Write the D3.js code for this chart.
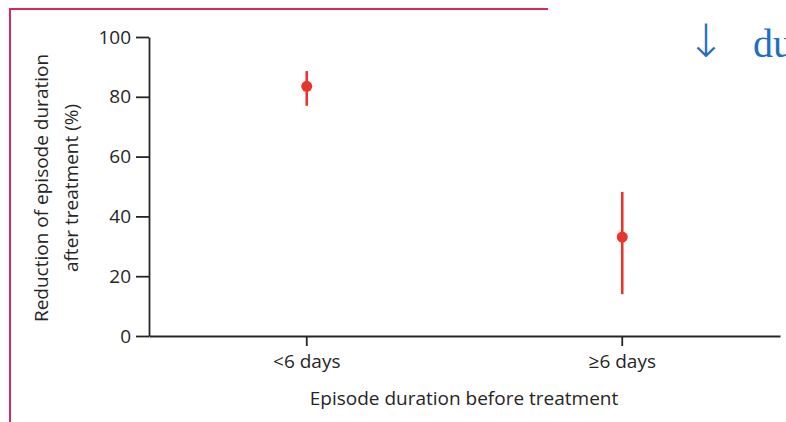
<!DOCTYPE html>
<html><head><meta charset="utf-8">
<script src="https://cdn.jsdelivr.net/npm/d3@7"></script>
<style>
html,body{margin:0;padding:0;background:#fff;}
svg{display:block;}
</style></head>
<body>
<svg id="chart" width="786" height="422"></svg>
<script>
const categories = ["<6 days", "≥6 days"];
const means = [83.5, 33.1];
const lowers = [77.0, 14.0];
const uppers = [88.6, 48.2];
const yTicks = [0, 20, 40, 60, 80, 100];
const yTitleLines = ["Reduction of episode duration", "after treatment (%)"];
const xTitle = "Episode duration before treatment";

const svg = d3.select("#chart");
const font = "'Open Sans', sans-serif";
const fs = 19;
const ink = "#262626";
const red = "#e8352c";

// slide frame (pink border from the surrounding slide)
svg.append("path").attr("d", "M10,422 V9 H548")
  .attr("fill", "none").attr("stroke", "#d9285a").attr("stroke-width", 2);

// cropped slide text
svg.append("text").attr("x", 706).attr("y", 57).attr("text-anchor", "middle")
  .attr("font-family", "'DejaVu Sans', sans-serif").attr("font-size", 46).attr("font-weight", 200).attr("fill", "#1e6fc2")
  .text("↓");
svg.append("text").attr("x", 753).attr("y", 57)
  .attr("font-family", "'Liberation Serif', serif").attr("font-size", 40).attr("fill", "#1e6fc2")
  .text("du");

const x = d3.scaleBand().domain(categories).range([149, 780]).padding(0);
const y = d3.scaleLinear().domain([0, 100]).range([336, 37]);

// y axis
const yAxis = svg.append("g").attr("transform", "translate(149,0)")
  .call(d3.axisLeft(y).tickValues(yTicks).tickSize(13).tickPadding(5).tickSizeOuter(0));
yAxis.select(".domain").attr("stroke", ink).attr("stroke-width", 1.8);
yAxis.selectAll(".tick line").attr("stroke", ink).attr("stroke-width", 1.8);
yAxis.selectAll(".tick text").attr("font-family", font).attr("font-size", fs).attr("fill", ink);

// x axis
const xAxis = svg.append("g").attr("transform", "translate(0,336)")
  .call(d3.axisBottom(x).tickSize(10).tickPadding(9).tickSizeOuter(0));
xAxis.select(".domain").attr("stroke", ink).attr("stroke-width", 1.8);
xAxis.selectAll(".tick line").attr("stroke", ink).attr("stroke-width", 1.8);
xAxis.selectAll(".tick text").attr("font-family", font).attr("font-size", fs).attr("fill", ink);

// axis titles
svg.append("text").attr("x", 464).attr("y", 405).attr("text-anchor", "middle")
  .attr("font-family", font).attr("font-size", fs).attr("fill", ink).text(xTitle);
const yt = svg.append("text").attr("transform", "translate(48,188) rotate(-90)")
  .attr("text-anchor", "middle").attr("font-family", font).attr("font-size", fs).attr("fill", ink);
yTitleLines.forEach((l, i) => yt.append("tspan").attr("x", 0).attr("y", i * 30).text(l));

// error bars and points
const cx = d => x(d) + x.bandwidth() / 2;
svg.append("g").selectAll("line").data(categories).join("line")
  .attr("x1", cx).attr("x2", cx)
  .attr("y1", (d, i) => y(uppers[i])).attr("y2", (d, i) => y(lowers[i]))
  .attr("stroke", red).attr("stroke-width", 2.6);
svg.append("g").selectAll("circle").data(categories).join("circle")
  .attr("cx", cx).attr("cy", (d, i) => y(means[i])).attr("r", 5.5).attr("fill", red);
</script>
</body></html>
